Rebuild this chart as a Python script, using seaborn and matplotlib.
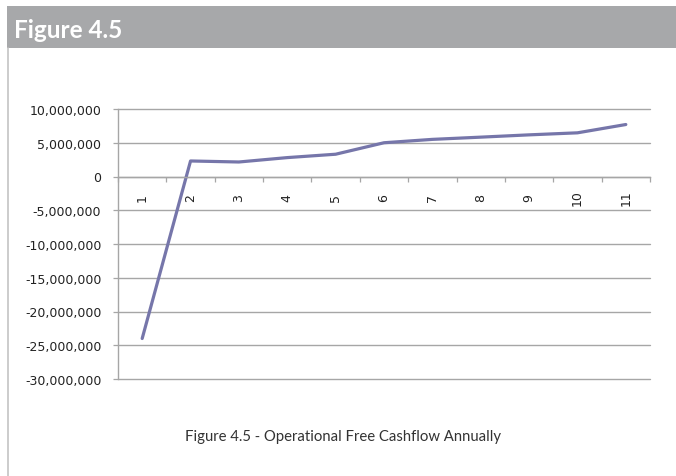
import matplotlib
matplotlib.use("Agg")
import matplotlib.pyplot as plt
import seaborn as sns
import pandas as pd
import numpy as np
from matplotlib.ticker import FuncFormatter, FixedLocator
from matplotlib.patches import Rectangle
from matplotlib.lines import Line2D

years = ["1", "2", "3", "4", "5", "6", "7", "8", "9", "10", "11"]
cashflow = [-24.0e6, 2.3e6, 2.15e6, 2.8e6, 3.3e6, 5.0e6, 5.5e6, 5.83e6, 6.17e6, 6.47e6, 7.7e6]
y_ticks = [10e6, 5e6, 0, -5e6, -10e6, -15e6, -20e6, -25e6, -30e6]

title_text = "Figure 4.5"
caption_text = "Figure 4.5 - Operational Free Cashflow Annually"

sns.set_theme(style="white")
plt.rcParams['font.family'] = ['DejaVu Sans']

df = pd.DataFrame({"x": np.arange(len(years)), "y": cashflow})

fig = plt.figure(figsize=(6.76, 4.77), dpi=100)
ax = fig.add_axes([118/676, 1-380/477, 532/676, 270/477])

sns.lineplot(data=df, x="x", y="y", ax=ax, color="#7676AA", linewidth=2.3)

ax.set_xlim(-0.5, len(years) - 0.5)
ax.set_ylim(-30e6, 10e6)

grid_c = "#a6a6a6"
for v in y_ticks:
    ax.axhline(v, color=grid_c, linewidth=1.0, zorder=0, clip_on=False)

ax.yaxis.set_major_locator(FixedLocator(y_ticks))
ax.yaxis.set_major_formatter(FuncFormatter(lambda v, p: f"{int(round(v)):,}"))
ax.tick_params(axis="y", which="major", length=3.6, width=0.9, color=grid_c,
               direction="out", pad=8.4, labelsize=9, labelcolor="#222222", left=True)

for s in ["top", "right"]:
    ax.spines[s].set_visible(False)
ax.spines["left"].set_color(grid_c)
ax.spines["left"].set_linewidth(1.0)
ax.spines["bottom"].set_position(("data", 0))
ax.spines["bottom"].set_color(grid_c)
ax.spines["bottom"].set_linewidth(1.0)

ax.set_xticks(np.arange(len(years)))
ax.set_xticklabels(years, rotation=90, va="center", ha="center")
ax.set_xticks(np.arange(len(years) + 1) - 0.5, minor=True)
ax.tick_params(axis="x", which="major", length=0, pad=14.5, labelsize=9, labelcolor="#222222", bottom=True)
ax.tick_params(axis="x", which="minor", length=3.6, width=0.9, color=grid_c, direction="out", bottom=True)
ax.set_xlabel("")
ax.set_ylabel("")
ax.patch.set_alpha(0)

# header bar
fig.patches.append(Rectangle((7/676, 1-49/477), 1, 42/477, transform=fig.transFigure,
                             facecolor="#a7a8aa", edgecolor="none", zorder=0))
fig.text(14/676, 1-38/477, title_text, color="white", fontsize=17.5, fontweight="bold",
         family=["Lato", "DejaVu Sans"], va="baseline", ha="left")
# left border line
fig.lines.append(Line2D([8/676, 8/676], [0, 1-49/477], transform=fig.transFigure,
                        color="#c4c4c4", linewidth=1.2))

fig.text(343/676, 1-437/477, caption_text, color="#333333", fontsize=10.7,
         family=["Lato", "DejaVu Sans"], va="center", ha="center")

fig.savefig("out.png", dpi=100)
